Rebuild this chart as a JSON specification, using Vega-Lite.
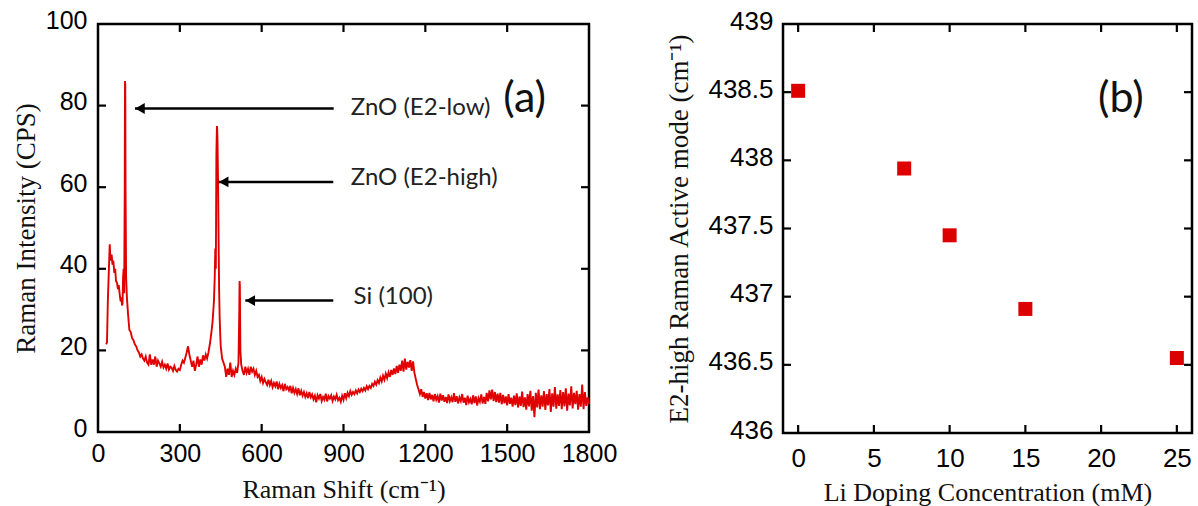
{
  "$schema": "https://vega.github.io/schema/vega-lite/v6.json",
  "background": "white",
  "padding": {"left": 11, "top": 6, "right": 5, "bottom": 5},
  "spacing": 45,
  "config": {
    "view": {"stroke": "black", "strokeWidth": 2.5},
    "axis": {
      "domain": false, "ticks": false,
      "grid": false,
      "labelFont": "Liberation Sans", "labelColor": "black", "labelFlush": false,
      "titleFont": "Liberation Serif", "titleFontWeight": "normal", "titleColor": "#111", "titleFontSize": 26
    }
  },
  "datasets": {
    "spectrum": [
      {"x":30,"y":21.5},{"x":33,"y":22},{"x":36,"y":32},{"x":40,"y":40},{"x":43,"y":46},{"x":46,"y":42},{"x":50,"y":43.5},{"x":53,"y":41},{"x":56,"y":42},{"x":60,"y":39},{"x":63,"y":40},{"x":66,"y":37},{"x":70,"y":36.5},{"x":73,"y":35},{"x":76,"y":36},{"x":80,"y":33.5},{"x":83,"y":32},{"x":86,"y":33},{"x":88,"y":31},{"x":90,"y":31.5},{"x":92,"y":38},{"x":94,"y":40},{"x":96,"y":34},{"x":98,"y":60},{"x":99,"y":86},{"x":100,"y":85},{"x":101,"y":60},{"x":103,"y":38},{"x":106,"y":33},{"x":110,"y":29},{"x":115,"y":25},{"x":120,"y":24.5},{"x":125,"y":23},{"x":130,"y":22.5},{"x":135,"y":21.5},{"x":140,"y":21},{"x":145,"y":20},{"x":150,"y":19.5},{"x":155,"y":18.5},{"x":160,"y":19},{"x":165,"y":18},{"x":170,"y":17.5},{"x":175,"y":18.5},{"x":180,"y":17},{"x":185,"y":16.5},{"x":190,"y":19},{"x":195,"y":16.5},{"x":200,"y":17.8},{"x":205,"y":16.5},{"x":210,"y":18.5},{"x":215,"y":16},{"x":220,"y":17.5},{"x":225,"y":16.8},{"x":230,"y":16},{"x":235,"y":17.2},{"x":240,"y":15.8},{"x":245,"y":16.5},{"x":250,"y":15.5},{"x":255,"y":16.8},{"x":260,"y":15.3},{"x":265,"y":16},{"x":270,"y":15.8},{"x":275,"y":15},{"x":280,"y":16.2},{"x":285,"y":15.2},{"x":290,"y":14.8},{"x":295,"y":15.5},{"x":300,"y":15.2},{"x":305,"y":16.5},{"x":310,"y":17.5},{"x":315,"y":17},{"x":320,"y":18.2},{"x":325,"y":19.5},{"x":330,"y":21},{"x":335,"y":19},{"x":340,"y":17.5},{"x":345,"y":16},{"x":350,"y":17.5},{"x":355,"y":15},{"x":360,"y":16.5},{"x":365,"y":18.5},{"x":370,"y":16},{"x":375,"y":17.8},{"x":380,"y":16.5},{"x":385,"y":18.8},{"x":390,"y":17.5},{"x":395,"y":19},{"x":400,"y":18},{"x":405,"y":19.5},{"x":410,"y":21.5},{"x":415,"y":24},{"x":420,"y":27},{"x":425,"y":32},{"x":428,"y":38},{"x":430,"y":45},{"x":432,"y":40},{"x":434,"y":68},{"x":436,"y":75},{"x":437,"y":74},{"x":438,"y":72},{"x":440,"y":62},{"x":442,"y":48},{"x":444,"y":35},{"x":446,"y":28},{"x":448,"y":24},{"x":450,"y":21},{"x":455,"y":18},{"x":460,"y":17},{"x":465,"y":16},{"x":470,"y":13.5},{"x":475,"y":15.5},{"x":480,"y":14},{"x":485,"y":17},{"x":490,"y":13.5},{"x":495,"y":15},{"x":500,"y":14},{"x":505,"y":15.5},{"x":510,"y":14.5},{"x":515,"y":17},{"x":518,"y":30},{"x":519,"y":37},{"x":520,"y":36},{"x":522,"y":20},{"x":525,"y":16.5},{"x":530,"y":15},{"x":535,"y":14},{"x":540,"y":16},{"x":545,"y":14.5},{"x":550,"y":15.5},{"x":555,"y":14},{"x":560,"y":16},{"x":565,"y":14.8},{"x":570,"y":15.5},{"x":575,"y":14},{"x":580,"y":15},{"x":585,"y":13.5},{"x":590,"y":14},{"x":595,"y":12.5},{"x":600,"y":13.5},{"x":605,"y":12},{"x":610,"y":13},{"x":615,"y":12.2},{"x":620,"y":11.5},{"x":625,"y":12.8},{"x":630,"y":11.5},{"x":635,"y":12.5},{"x":640,"y":11},{"x":645,"y":12},{"x":650,"y":11.2},{"x":655,"y":12.4},{"x":660,"y":10.5},{"x":665,"y":11.8},{"x":670,"y":10.8},{"x":675,"y":11.5},{"x":680,"y":10},{"x":685,"y":11.8},{"x":690,"y":10.5},{"x":695,"y":11},{"x":700,"y":10.2},{"x":705,"y":11.3},{"x":710,"y":9.5},{"x":715,"y":10.8},{"x":720,"y":9.6},{"x":725,"y":10.5},{"x":730,"y":9.3},{"x":735,"y":10.7},{"x":740,"y":9},{"x":745,"y":10.1},{"x":750,"y":8.9},{"x":755,"y":9.8},{"x":760,"y":8.6},{"x":765,"y":9.5},{"x":770,"y":8.3},{"x":775,"y":9.8},{"x":780,"y":8.5},{"x":785,"y":9.2},{"x":790,"y":8},{"x":795,"y":8.9},{"x":800,"y":7.3},{"x":805,"y":9},{"x":810,"y":8.2},{"x":815,"y":9.3},{"x":820,"y":7.6},{"x":825,"y":8.6},{"x":830,"y":7.9},{"x":835,"y":9.4},{"x":840,"y":7.5},{"x":845,"y":8.8},{"x":850,"y":8.2},{"x":855,"y":9},{"x":860,"y":7.6},{"x":865,"y":8.7},{"x":870,"y":8},{"x":875,"y":9.1},{"x":880,"y":7.8},{"x":885,"y":8.4},{"x":890,"y":7.4},{"x":895,"y":8.9},{"x":900,"y":7.9},{"x":905,"y":9.5},{"x":910,"y":8.3},{"x":915,"y":9.6},{"x":920,"y":8.8},{"x":925,"y":10},{"x":930,"y":9.1},{"x":935,"y":9.8},{"x":940,"y":9.3},{"x":945,"y":10.2},{"x":950,"y":9.5},{"x":955,"y":10.4},{"x":960,"y":9.8},{"x":965,"y":10.6},{"x":970,"y":10},{"x":975,"y":10.8},{"x":980,"y":10.2},{"x":985,"y":11.2},{"x":990,"y":10.5},{"x":995,"y":11.3},{"x":1000,"y":10.8},{"x":1005,"y":11.8},{"x":1010,"y":11.3},{"x":1015,"y":12.3},{"x":1020,"y":11.6},{"x":1025,"y":12.7},{"x":1030,"y":12},{"x":1035,"y":13.3},{"x":1040,"y":12.4},{"x":1045,"y":13.8},{"x":1050,"y":12.8},{"x":1055,"y":14.3},{"x":1060,"y":13.2},{"x":1065,"y":14.6},{"x":1070,"y":13.5},{"x":1075,"y":15.2},{"x":1080,"y":14},{"x":1085,"y":15.6},{"x":1090,"y":14.2},{"x":1095,"y":16.2},{"x":1100,"y":14.5},{"x":1105,"y":16.5},{"x":1110,"y":15},{"x":1115,"y":17.5},{"x":1120,"y":14.8},{"x":1125,"y":18},{"x":1130,"y":15.3},{"x":1135,"y":17.2},{"x":1140,"y":15.8},{"x":1145,"y":17.6},{"x":1150,"y":15},{"x":1155,"y":17.3},{"x":1160,"y":14.5},{"x":1165,"y":13},{"x":1170,"y":11.5},{"x":1175,"y":10.5},{"x":1180,"y":9.3},{"x":1185,"y":10.5},{"x":1190,"y":8.6},{"x":1195,"y":9.8},{"x":1200,"y":8.2},{"x":1205,"y":9.5},{"x":1210,"y":7.8},{"x":1215,"y":9.6},{"x":1220,"y":8},{"x":1225,"y":9.1},{"x":1230,"y":7.5},{"x":1235,"y":9.3},{"x":1240,"y":7.9},{"x":1245,"y":8.8},{"x":1250,"y":7.2},{"x":1255,"y":9.4},{"x":1260,"y":7.7},{"x":1265,"y":9},{"x":1270,"y":7.4},{"x":1275,"y":8.6},{"x":1280,"y":7.1},{"x":1285,"y":9.2},{"x":1290,"y":7.6},{"x":1295,"y":8.5},{"x":1300,"y":7.3},{"x":1305,"y":9.5},{"x":1310,"y":7.4},{"x":1315,"y":8.8},{"x":1320,"y":7},{"x":1325,"y":8.5},{"x":1330,"y":7.6},{"x":1335,"y":9.3},{"x":1340,"y":7.2},{"x":1345,"y":8.4},{"x":1350,"y":6.6},{"x":1355,"y":8.9},{"x":1360,"y":7.3},{"x":1365,"y":8.1},{"x":1370,"y":6.8},{"x":1375,"y":9},{"x":1380,"y":7.1},{"x":1385,"y":8.7},{"x":1390,"y":6.5},{"x":1395,"y":8.3},{"x":1400,"y":7.4},{"x":1405,"y":9.2},{"x":1410,"y":7},{"x":1415,"y":8.6},{"x":1420,"y":6.9},{"x":1425,"y":9.6},{"x":1430,"y":7.5},{"x":1435,"y":10.2},{"x":1440,"y":8},{"x":1445,"y":10.4},{"x":1450,"y":7.6},{"x":1455,"y":9.8},{"x":1460,"y":7.3},{"x":1465,"y":9.4},{"x":1470,"y":7.2},{"x":1475,"y":9.6},{"x":1480,"y":6.8},{"x":1485,"y":9.1},{"x":1490,"y":7},{"x":1495,"y":8.7},{"x":1500,"y":6.5},{"x":1505,"y":9.3},{"x":1510,"y":6.9},{"x":1515,"y":8.4},{"x":1520,"y":6.2},{"x":1525,"y":8.9},{"x":1530,"y":6.6},{"x":1535,"y":9.5},{"x":1540,"y":6},{"x":1545,"y":8.7},{"x":1550,"y":6.4},{"x":1555,"y":9.9},{"x":1560,"y":6.1},{"x":1565,"y":8.5},{"x":1570,"y":5.5},{"x":1575,"y":9.3},{"x":1580,"y":6.3},{"x":1585,"y":10.1},{"x":1590,"y":5.2},{"x":1595,"y":8.8},{"x":1600,"y":3.6},{"x":1605,"y":9.6},{"x":1610,"y":6},{"x":1615,"y":10.4},{"x":1620,"y":5.6},{"x":1625,"y":9},{"x":1630,"y":6.2},{"x":1635,"y":10},{"x":1640,"y":5.4},{"x":1645,"y":9.3},{"x":1650,"y":6.5},{"x":1655,"y":10.5},{"x":1660,"y":4.9},{"x":1665,"y":9.5},{"x":1670,"y":6.2},{"x":1675,"y":11},{"x":1680,"y":5.7},{"x":1685,"y":9.2},{"x":1690,"y":6.4},{"x":1695,"y":10.3},{"x":1700,"y":5.6},{"x":1705,"y":9.8},{"x":1710,"y":6.3},{"x":1715,"y":10.7},{"x":1720,"y":5.2},{"x":1725,"y":9.4},{"x":1730,"y":6.5},{"x":1735,"y":11.2},{"x":1740,"y":5.8},{"x":1745,"y":9.6},{"x":1750,"y":6.8},{"x":1755,"y":10.1},{"x":1760,"y":5.5},{"x":1765,"y":9.3},{"x":1770,"y":6.2},{"x":1775,"y":11.6},{"x":1780,"y":5.6},{"x":1785,"y":9.8},{"x":1790,"y":6.4},{"x":1795,"y":8.5},{"x":1800,"y":6.8}
    ],
    "arrows": [
      {"peak":"E2-low","tip":135.6,"tail":864,"y":79.3},
      {"peak":"E2-high","tip":442.5,"tail":862.5,"y":61.3},
      {"peak":"Si","tip":540,"tail":862.5,"y":32.2}
    ],
    "peaklabels": [
      {"text":"ZnO (E2-low)","x":927,"y":79.5},
      {"text":"ZnO (E2-high)","x":927,"y":62.2},
      {"text":"Si (100)","x":937,"y":33}
    ],
    "panelA": [{"text":"(a)","x":1564,"y":81.5}],
    "ticksAx": [{"v":300},{"v":600},{"v":900},{"v":1200},{"v":1500}],
    "ticksAy": [{"v":20},{"v":40},{"v":60},{"v":80}],
    "doping": [
      {"conc":0,"mode":438.51},
      {"conc":7,"mode":437.94},
      {"conc":10,"mode":437.45},
      {"conc":15,"mode":436.91},
      {"conc":25,"mode":436.55}
    ],
    "panelB": [{"text":"(b)","x":21.3,"y":438.45}],
    "ticksBx": [{"v":0},{"v":5},{"v":10},{"v":15},{"v":20},{"v":25}],
    "ticksBy": [{"v":436.5},{"v":437},{"v":437.5},{"v":438},{"v":438.5}]
  },
  "hconcat": [
    {
      "width": 491,
      "height": 408,
      "layer": [
        {
          "data": {"name": "spectrum"},
          "mark": {"type": "line", "color": "#e00000", "strokeWidth": 1.9},
          "encoding": {
            "x": {"field": "x", "type": "quantitative",
                  "scale": {"domain": [0, 1800], "nice": false, "zero": false},
                  "axis": {"orient": "bottom", "values": [0,300,600,900,1200,1500,1800], "format": "d",
                           "labelFontSize": 25, "labelPadding": 9,
                           "title": "Raman Shift (cm⁻¹)", "titlePadding": 10}},
            "y": {"field": "y", "type": "quantitative",
                  "scale": {"domain": [0, 100], "nice": false},
                  "axis": {"orient": "left", "values": [0,20,40,60,80,100],
                           "labelFontSize": 25, "labelPadding": 11, "labelOffset": -4,
                           "title": "Raman Intensity (CPS)", "titlePadding": 5, "titleFontSize": 27}}
          }
        },
        {
          "data": {"name": "ticksAx"},
          "mark": {"type": "rule", "color": "black", "strokeWidth": 2.2},
          "encoding": {
            "x": {"field": "v", "type": "quantitative", "axis": null},
            "y": {"datum": 0, "type": "quantitative", "axis": null},
            "y2": {"datum": 1.96}
          }
        },
        {
          "data": {"name": "ticksAx"},
          "mark": {"type": "rule", "color": "black", "strokeWidth": 2.2},
          "encoding": {
            "x": {"field": "v", "type": "quantitative", "axis": null},
            "y": {"datum": 100, "type": "quantitative", "axis": null},
            "y2": {"datum": 98.04}
          }
        },
        {
          "data": {"name": "ticksAy"},
          "mark": {"type": "rule", "color": "black", "strokeWidth": 2.2},
          "encoding": {
            "y": {"field": "v", "type": "quantitative", "axis": null},
            "x": {"datum": 0, "type": "quantitative", "axis": null},
            "x2": {"datum": 29.3}
          }
        },
        {
          "data": {"name": "ticksAy"},
          "mark": {"type": "rule", "color": "black", "strokeWidth": 2.2},
          "encoding": {
            "y": {"field": "v", "type": "quantitative", "axis": null},
            "x": {"datum": 1800, "type": "quantitative", "axis": null},
            "x2": {"datum": 1770.7}
          }
        },
        {
          "data": {"name": "arrows"},
          "mark": {"type": "rule", "color": "black", "strokeWidth": 2.5},
          "encoding": {
            "x": {"field": "tip", "type": "quantitative", "axis": null},
            "x2": {"field": "tail"},
            "y": {"field": "y", "type": "quantitative", "axis": null}
          }
        },
        {
          "data": {"name": "arrows"},
          "mark": {"type": "point", "shape": "triangle-left", "filled": true, "color": "black", "opacity": 1, "size": 120},
          "encoding": {
            "x": {"field": "tip", "type": "quantitative", "axis": null},
            "y": {"field": "y", "type": "quantitative", "axis": null},
            "xOffset": {"value": 5}
          }
        },
        {
          "data": {"name": "peaklabels"},
          "mark": {"type": "text", "align": "left", "baseline": "middle", "font": "Lato", "fontSize": 24, "color": "#222"},
          "encoding": {
            "x": {"field": "x", "type": "quantitative", "axis": null},
            "y": {"field": "y", "type": "quantitative", "axis": null},
            "text": {"field": "text"}
          }
        },
        {
          "data": {"name": "panelA"},
          "mark": {"type": "text", "align": "center", "baseline": "middle", "font": "Lato", "fontSize": 43, "color": "#111"},
          "encoding": {
            "x": {"field": "x", "type": "quantitative", "axis": null},
            "y": {"field": "y", "type": "quantitative", "axis": null},
            "text": {"field": "text"}
          }
        }
      ],
      "resolve": {"axis": {"x": "independent", "y": "independent"}}
    },
    {
      "width": 409,
      "height": 409,
      "layer": [
        {
          "data": {"name": "doping"},
          "mark": {"type": "point", "shape": "square", "filled": true, "color": "#dd0000", "opacity": 1, "size": 196},
          "encoding": {
            "x": {"field": "conc", "type": "quantitative",
                  "scale": {"domain": [-1, 26], "nice": false, "zero": false},
                  "axis": {"orient": "bottom", "values": [0,5,10,15,20,25],
                           "labelFontSize": 26, "labelPadding": 12,
                           "title": "Li Doping Concentration (mM)", "titlePadding": 8}},
            "y": {"field": "mode", "type": "quantitative",
                  "scale": {"domain": [436, 439], "nice": false, "zero": false},
                  "axis": {"orient": "left", "values": [436,436.5,437,437.5,438,438.5,439], "format": "~g",
                           "labelFontSize": 26, "labelPadding": 10, "labelOffset": -3,
                           "title": "E2-high Raman Active mode (cm⁻¹)", "titlePadding": 14, "titleFontSize": 27}}
          }
        },
        {
          "data": {"name": "ticksBx"},
          "mark": {"type": "rule", "color": "black", "strokeWidth": 2.2},
          "encoding": {
            "x": {"field": "v", "type": "quantitative", "axis": null},
            "y": {"datum": 436, "type": "quantitative", "axis": null},
            "y2": {"datum": 436.0587}
          }
        },
        {
          "data": {"name": "ticksBx"},
          "mark": {"type": "rule", "color": "black", "strokeWidth": 2.2},
          "encoding": {
            "x": {"field": "v", "type": "quantitative", "axis": null},
            "y": {"datum": 439, "type": "quantitative", "axis": null},
            "y2": {"datum": 438.9413}
          }
        },
        {
          "data": {"name": "ticksBy"},
          "mark": {"type": "rule", "color": "black", "strokeWidth": 2.2},
          "encoding": {
            "y": {"field": "v", "type": "quantitative", "axis": null},
            "x": {"datum": -1, "type": "quantitative", "axis": null},
            "x2": {"datum": -0.472}
          }
        },
        {
          "data": {"name": "ticksBy"},
          "mark": {"type": "rule", "color": "black", "strokeWidth": 2.2},
          "encoding": {
            "y": {"field": "v", "type": "quantitative", "axis": null},
            "x": {"datum": 26, "type": "quantitative", "axis": null},
            "x2": {"datum": 25.472}
          }
        },
        {
          "data": {"name": "panelB"},
          "mark": {"type": "text", "align": "center", "baseline": "middle", "font": "Lato", "fontSize": 43, "color": "#111"},
          "encoding": {
            "x": {"field": "x", "type": "quantitative", "axis": null},
            "y": {"field": "y", "type": "quantitative", "axis": null},
            "text": {"field": "text"}
          }
        }
      ],
      "resolve": {"axis": {"x": "independent", "y": "independent"}}
    }
  ]
}
